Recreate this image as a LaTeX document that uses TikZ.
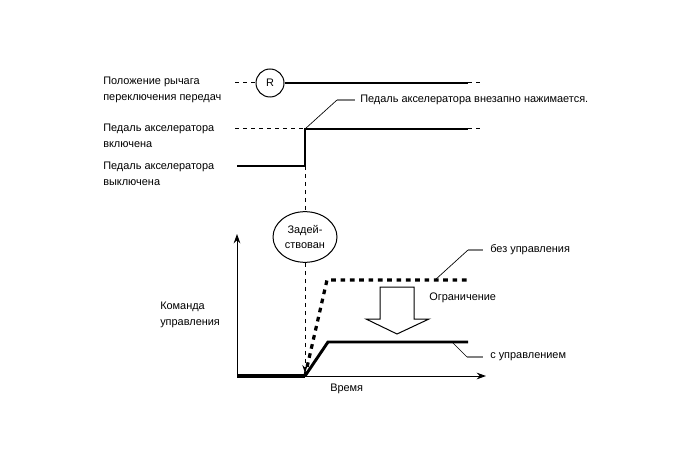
\documentclass[tikz,border=0pt]{standalone}
\usepackage{fontspec}
\setmainfont{Liberation Sans}
\usetikzlibrary{arrows.meta,shapes.geometric}
\tikzset{
  lbl/.style={anchor=west, align=left, inner sep=0pt, font=\fontsize{8.2}{12}\selectfont},
  sig/.style={line width=2.2pt},
  thin dash/.style={line width=0.75pt, dash pattern=on 3pt off 3pt},
  lead/.style={line width=0.5pt}
}
\begin{document}
\begin{tikzpicture}[x=0.75pt,y=-0.75pt]
\useasboundingbox (0,0) rectangle (688,463);

% signal rows
\coordinate (G0) at (235,83);
\coordinate (G1) at (468,83);
\coordinate (G2) at (484,83);
\coordinate (N0) at (235,129);
\coordinate (N1) at (305,129);
\coordinate (N2) at (468,129);
\coordinate (N3) at (484,129);
\coordinate (F0) at (237,166);
\coordinate (F1) at (305,166);

\node[circle, draw, line width=0.75pt, minimum size=21pt, inner sep=0pt,
      font=\fontsize{8.2}{12}\selectfont] (R) at (270,83) {R};

\draw[thin dash] (G0) -- (R.west);
\draw[sig] (R.east) -- (G1);
\draw[thin dash] (G1) -- (G2);

\draw[thin dash] (N0) -- (N1);
\draw[sig] (F0) -- (F1) -- (N1) -- (N2);
\draw[thin dash] (N2) -- (N3);

% left labels
\node[lbl] (gear) at (103,90) {Положение рычага\\переключения передач};
\node[lbl] (on) at (103,135.5) {Педаль акселератора\\включена};
\node[lbl] (off) at (103,174) {Педаль акселератора\\выключена};
\node[lbl] (cmd) at (160,315) {Команда\\управления};

% pedal note
\node[lbl] (press) at (360,100) {Педаль акселератора внезапно нажимается.};
\coordinate (P1) at (337,100);
\coordinate (P2) at (355,100);
\draw[lead] (N1) -- (P1);
\draw[lead, gray, line width=1pt] (P1) -- (P2);

% operated
\node[ellipse, draw, line width=0.75pt, minimum width=48pt, minimum height=38pt,
      inner sep=0pt, align=center, font=\fontsize{8.2}{11}\selectfont] (act) at (305,237) {Задей-\\ствован};
\coordinate (T0) at (305,373);
\draw[thin dash] (F1) -- (act.north);
\draw[thin dash, -{Stealth[length=6pt,width=4pt]}] (act.south) -- (T0);

% axes
\coordinate (O) at (237,376);
\coordinate (Y) at (237,234);
\coordinate (X) at (486,376);
\draw[line width=0.75pt, -{Stealth[length=7pt,width=5pt]}] (O) -- (Y);
\draw[line width=0.75pt, -{Stealth[length=7pt,width=5pt]}] (O) -- (X);
\coordinate (S0) at (305,376);
\draw[line width=2.6pt] (O) -- (S0);

\node[lbl] (time) at (330,389) {Время};

% without control
\coordinate (U1) at (327,280);
\coordinate (U2) at (468,280);
\draw[line width=2.4pt, dash pattern=on 3.5pt off 3.5pt] (S0) -- (U1) -- (U2);

% with control
\coordinate (C1) at (328,342);
\coordinate (C2) at (468,342);
\draw[sig] (S0) -- (C1) -- (C2);

% limit arrow
\draw[line width=0.75pt] (380,287) -- (414,287) -- (414,319) -- (429,319)
  -- (397,334) -- (366,319) -- (380,319) -- cycle;
\node[lbl] (limit) at (429,298) {Ограничение};

% leaders
\node[lbl] (nocon) at (490,250) {без управления};
\coordinate (L1) at (435,280);
\coordinate (L2) at (468,250);
\coordinate (L3) at (483,250);
\draw[lead] (L1) -- (L2);
\draw[lead, gray, line width=1pt] (L2) -- (L3);

\node[lbl] (withcon) at (490,357) {с управлением};
\coordinate (K1) at (452,342);
\coordinate (K2) at (467,357);
\coordinate (K3) at (483,357);
\draw[lead] (K1) -- (K2);
\draw[lead, gray, line width=1pt] (K2) -- (K3);
\end{tikzpicture}
\end{document}
